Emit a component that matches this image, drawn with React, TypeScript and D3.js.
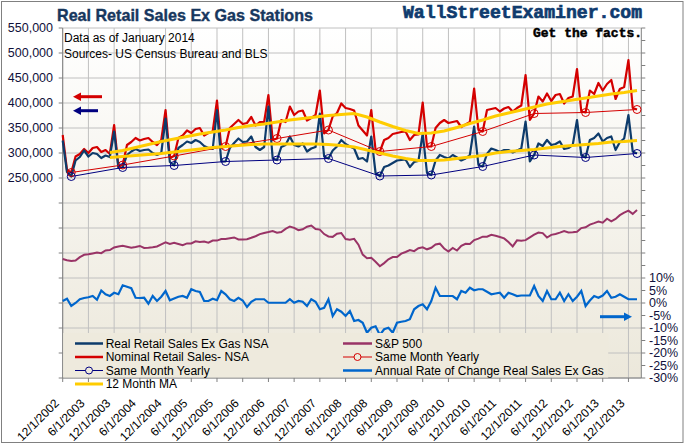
import React from "react";
import * as d3 from "d3";

// index 0 = Dec 2002 ... index 134 = Feb 2014
const xTickLabels = [
  "12/1/2002", "6/1/2003", "12/1/2003", "6/1/2004", "12/1/2004", "6/1/2005",
  "12/1/2005", "6/1/2006", "12/1/2006", "6/1/2007", "12/1/2007", "6/1/2008",
  "12/1/2008", "6/1/2009", "12/1/2009", "6/1/2010", "12/1/2010", "6/1/2011",
  "12/1/2011", "6/1/2012", "12/1/2012", "6/1/2013", "12/1/2013",
];

// thousands of dollars
const nominalSales = [
  336,
  266, 261, 293, 298, 308, 300, 310, 312, 302, 306, 298, 356,
  273, 276, 316, 322, 330, 325, 328, 330, 322, 316, 326, 386,
  290, 294, 330, 335, 345, 340, 348, 350, 335, 340, 343, 405,
  310, 313, 350, 358, 366, 358, 360, 372, 355, 362, 362, 416,
  326, 329, 366, 362, 393, 376, 383, 385, 365, 370, 376, 425,
  339, 346, 373, 380, 399, 390, 388, 385, 355, 345, 335, 386,
  306, 303, 326, 330, 338, 340, 342, 343, 326, 336, 337, 401,
  313, 313, 350, 360, 366, 360, 362, 364, 352, 357, 362, 429,
  346, 343, 386, 388, 390, 383, 389, 392, 383, 390, 395, 456,
  366, 379, 413, 403, 419, 404, 416, 418, 399, 410, 413, 468,
  383, 381, 425, 418, 440, 425, 438, 446, 408, 428, 432, 486,
  390, 387,
];

const realSales = [
  325,
  262, 253, 285, 292, 305, 293, 300, 298, 290, 295, 292, 343,
  270, 271, 296, 303, 308, 304, 306, 307, 300, 296, 300, 369,
  282, 275, 310, 316, 323, 320, 326, 322, 314, 310, 308, 386,
  283, 283, 310, 320, 329, 322, 323, 333, 312, 306, 312, 393,
  289, 286, 312, 316, 333, 316, 313, 319, 303, 309, 312, 379,
  293, 289, 305, 313, 326, 318, 313, 309, 288, 290, 283, 333,
  260, 254, 272, 275, 280, 285, 286, 287, 272, 282, 284, 339,
  260, 256, 285, 296, 292, 289, 296, 291, 285, 289, 296, 353,
  276, 273, 298, 309, 306, 302, 306, 306, 301, 305, 309, 363,
  283, 296, 319, 314, 326, 316, 318, 323, 308, 310, 316, 366,
  296, 291, 326, 330, 339, 323, 330, 333, 306, 322, 329, 376,
  303, 299,
];

const sp500 = [
  879.82,
  855.7, 841.15, 848.18, 916.92, 963.59, 974.5, 990.31, 1008.01, 995.97, 1050.71, 1058.2, 1111.92,
  1131.13, 1144.94, 1126.21, 1107.3, 1120.68, 1140.84, 1101.72, 1104.24, 1114.58, 1130.2, 1173.82, 1211.92,
  1181.27, 1203.6, 1180.59, 1156.85, 1191.5, 1191.33, 1234.18, 1220.33, 1228.81, 1207.01, 1249.48, 1248.29,
  1280.08, 1280.66, 1294.83, 1310.61, 1270.09, 1270.2, 1276.66, 1303.82, 1335.85, 1377.94, 1400.63, 1418.3,
  1438.24, 1406.82, 1420.86, 1482.37, 1530.62, 1503.35, 1455.27, 1473.99, 1526.75, 1549.38, 1481.14, 1468.36,
  1378.55, 1330.63, 1322.7, 1385.59, 1400.38, 1280.0, 1267.38, 1282.83, 1166.36, 968.75, 896.24, 903.25,
  825.88, 735.09, 797.87, 872.81, 919.14, 919.32, 987.48, 1020.62, 1057.08, 1036.19, 1095.63, 1115.1,
  1073.87, 1104.49, 1169.43, 1186.69, 1089.41, 1030.71, 1101.6, 1049.33, 1141.2, 1183.26, 1180.55, 1257.64,
  1286.12, 1327.22, 1325.83, 1363.61, 1345.2, 1320.64, 1292.28, 1218.89, 1131.42, 1253.3, 1246.96, 1257.6,
  1312.41, 1365.68, 1408.47, 1397.91, 1310.33, 1362.16, 1379.32, 1406.58, 1440.67, 1412.16, 1416.18, 1426.19,
  1498.11, 1514.68, 1569.19, 1597.57, 1630.74, 1606.28, 1685.73, 1632.97, 1681.55, 1756.54, 1805.81, 1848.36,
  1782.59, 1859.45,
];

// percent
const annualChange = [
  0.8, 1.7, -1.2, 0.0, 1.5, 2.0, 2.3, 2.8, 1.3, 5.0, 3.5, 2.8,
  4.1, 3.5, 7.1, 6.5, 5.9, 2.1, 2.0, 2.1, -0.3, 2.8, 0.8, 2.5,
  4.8, 1.1, 1.8, 2.5, 2.8, 2.1, 5.5, 4.8, 4.4, 0.8, 0.8, 1.7,
  1.1, 4.8, 3.5, 1.5, 0.8, 2.1, 1.0, -1.6, 0.5, 1.5, 1.5, 1.5,
  0.1, 0.1, 0.1, 0.1, 0.1, 1.5, 0.1, 0.8, 0.5, -1.2, 1.5, 0.5,
  -2.5, -1.9, 1.5, -5.2, -2.5, -3.5, -5.2, -3.2, -7.2, -6.8, -7.9, -11.9,
  -9.9, -9.3, -12.8, -10.5, -9.9, -11.9, -7.9, -7.5, -7.2, -6.5, -2.5, -1.2,
  -0.5, -2.5, 0.8, 6.1, 2.8, 2.8, 2.8, 2.8, 1.5, 4.8, 4.1, 6.1,
  5.1, 5.5, 5.5, 4.5, 3.5, 3.8, 4.1, 2.1, 4.1, 3.5, 2.8, 3.0,
  3.0, 3.0, 6.8, 2.8, 0.8, 4.8, 1.5, 1.5, 4.1, 0.8, 3.5, 0.8,
  2.5, 4.8, -1.2, 1.0, 2.8, 2.1, 3.0, 4.8, 2.1, 2.5, 3.5, 2.5,
  1.5, 1.5, 1.5,
];

// same month (February) each year
const sameMonthIndex = [2, 14, 26, 38, 50, 62, 74, 86, 98, 110, 122, 134];

// 12 month moving averages (thousands)
const maIndex = [
  11, 14, 17, 20, 23, 26, 29, 32, 35, 38, 41, 44, 47, 50, 53, 56, 59, 62, 65, 68, 71,
  74, 77, 80, 83, 86, 89, 92, 95, 98, 101, 104, 107, 110, 113, 116, 119, 122, 125, 128, 131, 134,
];
const maNominal = [
  301, 305, 311, 317, 323, 328, 333, 338, 342, 346, 351, 355, 358, 362, 366, 369, 372, 375, 377, 379, 372,
  362, 353, 345, 339, 340, 344, 351, 359, 366, 374, 380, 386, 392, 398, 402, 406, 410, 414, 418, 421, 425,
];
const maReal = [
  291, 293, 295, 297, 299, 302, 305, 308, 311, 313, 315, 317, 318, 318, 318, 318, 318, 317, 315, 312, 306,
  300, 294, 289, 285, 285, 286, 289, 292, 295, 300, 303, 305, 307, 310, 313, 315, 317, 319, 322, 323, 325,
];

const leftTickValues = [550, 500, 450, 400, 350, 300, 250];
const rightTickValues = [10, 5, 0, -5, -10, -15, -20, -25, -30];

const legendLeft = [
  "Real Retail Sales  Ex Gas NSA",
  "Nominal Retail Sales- NSA",
  "Same Month Yearly",
  "12 Month MA",
];
const legendRight = ["S&P 500", "Same Month Yearly", "Annual Rate of Change Real Sales Ex Gas"];

const C_REAL = "#0d3b6b";
const C_NOM = "#d40000";
const C_SMY_REAL = "#000080";
const C_MA = "#ffcc00";
const C_SP = "#993366";
const C_ROC = "#0066cc";
const GRID = "#c0c0c0";
const AXIS = "#808080";
const FONT = "'Liberation Sans', Arial, sans-serif";

export default function App() {
  const left = 62.7;
  const right = 641.3;
  const top = 28;
  const bottom = 378;

  const x = d3.scaleLinear().domain([0, 135]).range([left, right]);
  const yL = d3.scaleLinear().domain([-150, 550]).range([bottom, top]);
  const yR = d3.scaleLinear().domain([-30, 110]).range([bottom, top]);

  const lineL = d3
    .line<number>()
    .x((_, i) => x(i))
    .y((d) => yL(d));
  const lineSP = d3
    .line<number>()
    .x((_, i) => x(i))
    .y((d) => yL(d / 10));
  const lineR = d3
    .line<number>()
    .x((_, i) => x(i))
    .y((d) => yR(d));
  const lineIdx = (idx: number[], vals: number[]) =>
    d3
      .line<number>()
      .x((_, i) => x(idx[i]))
      .y((d) => yL(d))(vals) as string;

  const hGrid = d3.range(-150, 551, 50);
  const vGrid = d3.range(0, 133, 6);
  const rTicks = d3.range(-30, 111, 5);

  const smyReal = sameMonthIndex.map((i) => realSales[i]);
  const smyNom = sameMonthIndex.map((i) => nominalSales[i]);

  const legY = [343.5, 357, 370.5, 384];

  return (
    <svg
      width={685}
      height={446}
      style={{ position: "absolute", left: 0, top: 0, background: "#fff" }}
      fontFamily={FONT}
    >
      <defs>
        <linearGradient id="plotbg" x1="0" y1="0" x2="0" y2="1">
          <stop offset="0" stopColor="#ffffff" />
          <stop offset="1" stopColor="#ece8db" />
        </linearGradient>
      </defs>
      <rect x={0} y={0} width={685} height={446} fill="#fff" />
      <rect x={1.5} y={1.5} width={681.5} height={441} fill="none" stroke="#808080" strokeWidth={1} />

      {/* plot area */}
      <rect x={left} y={top} width={right - left} height={bottom - top} fill="url(#plotbg)" />
      {hGrid.map((v) => (
        <line key={"h" + v} x1={left} x2={right} y1={yL(v)} y2={yL(v)} stroke={GRID} strokeWidth={1} />
      ))}
      {vGrid.map((i) => (
        <line key={"v" + i} x1={x(i)} x2={x(i)} y1={top} y2={bottom} stroke={GRID} strokeWidth={1} />
      ))}

      {/* axes */}
      <line x1={left} x2={left} y1={top} y2={bottom} stroke={AXIS} />
      <line x1={right} x2={right} y1={top} y2={bottom} stroke={AXIS} />
      <line x1={left} x2={right} y1={bottom} y2={bottom} stroke={AXIS} />
      {hGrid.map((v) => (
        <line key={"lt" + v} x1={left - 4} x2={left} y1={yL(v)} y2={yL(v)} stroke={AXIS} />
      ))}
      {rTicks.map((v) => (
        <line key={"rt" + v} x1={right} x2={right + 4} y1={yR(v)} y2={yR(v)} stroke={AXIS} />
      ))}
      {vGrid.map((i) => (
        <line key={"bt" + i} x1={x(i)} x2={x(i)} y1={bottom} y2={bottom + 4} stroke={AXIS} />
      ))}

      {/* series */}
      <path d={lineSP(sp500) as string} fill="none" stroke={C_SP} strokeWidth={2} />
      <path d={lineR(annualChange) as string} fill="none" stroke={C_ROC} strokeWidth={2.2} />
      <path d={lineL(nominalSales) as string} fill="none" stroke={C_NOM} strokeWidth={2.2} strokeLinejoin="round" />
      <path d={lineL(realSales) as string} fill="none" stroke={C_REAL} strokeWidth={2.2} strokeLinejoin="round" />
      <path d={lineIdx(sameMonthIndex, smyNom)} fill="none" stroke={C_NOM} strokeWidth={1} />
      <path d={lineIdx(sameMonthIndex, smyReal)} fill="none" stroke={C_SMY_REAL} strokeWidth={1} />
      {sameMonthIndex.map((i, k) => (
        <circle key={"cn" + i} cx={x(i)} cy={yL(smyNom[k])} r={4} fill="none" stroke={C_NOM} strokeWidth={1} />
      ))}
      {sameMonthIndex.map((i, k) => (
        <circle key={"cr" + i} cx={x(i)} cy={yL(smyReal[k])} r={4} fill="none" stroke={C_SMY_REAL} strokeWidth={1} />
      ))}
      <path d={lineIdx(maIndex, maNominal)} fill="none" stroke={C_MA} strokeWidth={3} />
      <path d={lineIdx(maIndex, maReal)} fill="none" stroke={C_MA} strokeWidth={3} />

      {/* arrows */}
      <line x1={80} x2={102} y1={96.7} y2={96.7} stroke={C_NOM} strokeWidth={3} />
      <polygon points="73,96.7 81,92.5 81,100.9" fill={C_NOM} />
      <line x1={80} x2={98} y1={110.7} y2={110.7} stroke={C_SMY_REAL} strokeWidth={3} />
      <polygon points="73,110.7 81,106.5 81,114.9" fill={C_SMY_REAL} />
      <line x1={600} x2={625} y1={316.7} y2={316.7} stroke={C_ROC} strokeWidth={3} />
      <polygon points="632,316.7 624,312.5 624,320.9" fill={C_ROC} />

      {/* left axis labels */}
      {leftTickValues.map((v) => (
        <text key={"ll" + v} x={53} y={yL(v)} dy="0.35em" textAnchor="end" fontSize={12.5} fill="#10103a">
          {d3.format(",")(v * 1000)}
        </text>
      ))}
      {/* right axis labels */}
      {rightTickValues.map((v) => (
        <text key={"rl" + v} x={649} y={yR(v)} dy="0.35em" textAnchor="start" fontSize={12.5} fill="#10103a">
          {v + "%"}
        </text>
      ))}
      {/* x labels */}
      {xTickLabels.map((s, k) => (
        <text
          key={"xl" + k}
          transform={`translate(${x(k * 6) - 3},${bottom + 26}) rotate(-45)`}
          textAnchor="end"
          fontSize={12}
          fill="#000"
        >
          {s}
        </text>
      ))}

      {/* legend */}
      <rect x={left + 0.5} y={333} width={545} height={bottom - 333 - 0.5} fill="#eeeadd" />
      {legendLeft.map((s, k) => (
        <text key={"lg" + k} x={105.7} y={legY[k]} dy="0.35em" fontSize={12} fill="#000">
          {s}
        </text>
      ))}
      <line x1={75} x2={103} y1={legY[0]} y2={legY[0]} stroke={C_REAL} strokeWidth={2.5} />
      <line x1={75} x2={103} y1={legY[1]} y2={legY[1]} stroke={C_NOM} strokeWidth={2.5} />
      <line x1={75} x2={103} y1={legY[2]} y2={legY[2]} stroke={C_SMY_REAL} strokeWidth={1} />
      <circle cx={89} cy={legY[2]} r={3.5} fill="#eeeadd" stroke={C_SMY_REAL} />
      <line x1={75} x2={103} y1={legY[3]} y2={legY[3]} stroke={C_MA} strokeWidth={3} />
      {legendRight.map((s, k) => (
        <text key={"lr" + k} x={375} y={legY[k]} dy="0.35em" fontSize={12} fill="#000">
          {s}
        </text>
      ))}
      <line x1={343} x2={372} y1={legY[0]} y2={legY[0]} stroke={C_SP} strokeWidth={2.5} />
      <line x1={343} x2={372} y1={legY[1]} y2={legY[1]} stroke={C_NOM} strokeWidth={1} />
      <circle cx={357.5} cy={legY[1]} r={3.5} fill="#eeeadd" stroke={C_NOM} />
      <line x1={343} x2={372} y1={legY[2]} y2={legY[2]} stroke={C_ROC} strokeWidth={2.5} />

      {/* titles */}
      <text
        x={57}
        y={21}
        fontSize={17}
        fontWeight="bold"
        fill="#17375e"
        stroke="#17375e"
        strokeWidth={0.4}
        textLength={256}
        lengthAdjust="spacingAndGlyphs"
      >
        Real Retail Sales Ex Gas Stations
      </text>
      <text x={64} y={42} fontSize={12} fill="#000">
        Data as of January 2014
      </text>
      <text x={64} y={58} fontSize={12} fill="#000">
        Sources- US Census Bureau and BLS
      </text>
      <text
        x={403}
        y={18}
        fontSize={18}
        fontWeight="bold"
        fontFamily="'Liberation Mono', 'Courier New', monospace"
        fill="#0f3b6e"
        stroke="#0f3b6e"
        strokeWidth={0.7}
        textLength={239}
        lengthAdjust="spacingAndGlyphs"
      >
        WallStreetExaminer.com
      </text>
      <text
        x={533}
        y={37}
        fontSize={13.5}
        fontWeight="bold"
        fontFamily="'Liberation Mono', 'Courier New', monospace"
        fill="#000"
        stroke="#000"
        strokeWidth={0.5}
        textLength={109}
        lengthAdjust="spacingAndGlyphs"
      >
        Get the facts.
      </text>
    </svg>
  );
}
